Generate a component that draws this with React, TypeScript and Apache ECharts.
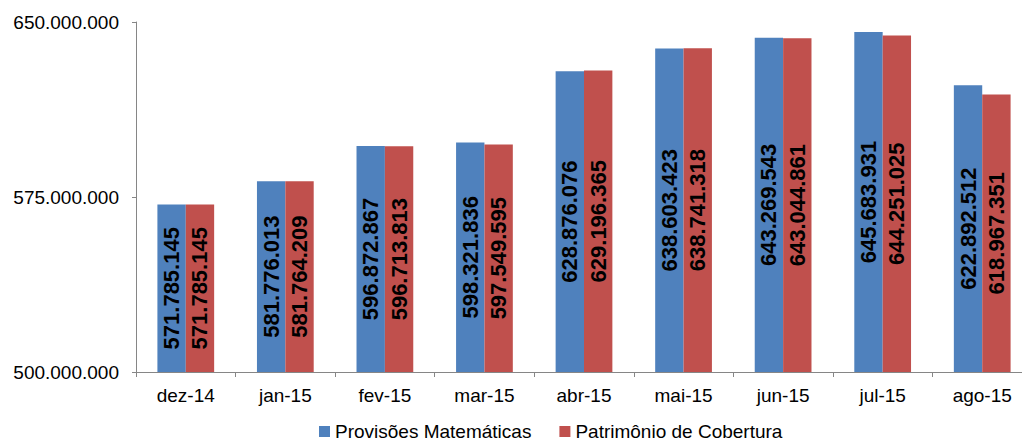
import React, { useEffect, useRef } from "react";
import * as echarts from "echarts";

const categories = ["dez-14", "jan-15", "fev-15", "mar-15", "abr-15", "mai-15", "jun-15", "jul-15", "ago-15"];
const provisoes = [571785145, 581776013, 596872867, 598321836, 628876076, 638603423, 643269543, 645683931, 622892512];
const patrimonio = [571785145, 581764209, 596713813, 597549595, 629196365, 638741318, 643044861, 644251025, 618967351];
const seriesNames = ["Provisões Matemáticas", "Patrimônio de Cobertura"];
const yMin = 500000000;
const yMax = 650000000;
const yInterval = 75000000;

const fmt = (v: number) => String(Math.round(v)).replace(/\B(?=(\d{3})+(?!\d))/g, ".");
const FONT = "'Liberation Sans', Arial, sans-serif";

export default function App() {
  const ref = useRef<HTMLDivElement>(null);
  useEffect(() => {
    if (!ref.current) return;
    const chart = echarts.init(ref.current, null, { renderer: "svg" });
    const label = {
      show: true,
      position: "inside" as const,
      rotate: 90,
      fontSize: 22,
      fontWeight: "bold" as const,
      fontFamily: FONT,
      color: "#000",
      formatter: (p: any) => fmt(p.value),
    };
    chart.setOption({
      animation: false,
      textStyle: { fontFamily: FONT },
      grid: { left: 136, top: 22, height: 350, width: 896, containLabel: false, outerBoundsMode: "none" },
      legend: {
        data: seriesNames,
        left: 319,
        top: 422,
        icon: "rect",
        itemWidth: 11,
        itemHeight: 11,
        itemGap: 28,
        padding: 0,
        textStyle: { fontSize: 19, lineHeight: 19, fontFamily: FONT, color: "#000" },
      },
      xAxis: {
        type: "category",
        data: categories,
        axisLine: { lineStyle: { color: "#868686" } },
        axisTick: { show: true, length: 5, lineStyle: { color: "#868686" } },
        axisLabel: { fontSize: 19, color: "#000", fontFamily: FONT, margin: 14 },
      },
      yAxis: {
        type: "value",
        min: yMin,
        max: yMax,
        interval: yInterval,
        splitLine: { show: false },
        axisLine: { show: true, lineStyle: { color: "#868686" } },
        axisTick: { show: true, length: 4, lineStyle: { color: "#868686" } },
        axisLabel: { fontSize: 19, color: "#000", fontFamily: FONT, margin: 17, formatter: (v: number) => fmt(v) },
      },
      series: [
        {
          name: seriesNames[0],
          type: "bar",
          data: provisoes,
          barGap: "0%",
          barCategoryGap: "43%",
          itemStyle: { color: "#4F81BD" },
          label,
        },
        {
          name: seriesNames[1],
          type: "bar",
          data: patrimonio,
          barGap: "0%",
          barCategoryGap: "43%",
          itemStyle: { color: "#C0504D" },
          label,
        },
      ],
    });
    return () => chart.dispose();
  }, []);
  return (
    <div
      ref={ref}
      style={{ position: "fixed", left: 0, top: 0, width: 1022, height: 442, background: "#fff" }}
    />
  );
}
